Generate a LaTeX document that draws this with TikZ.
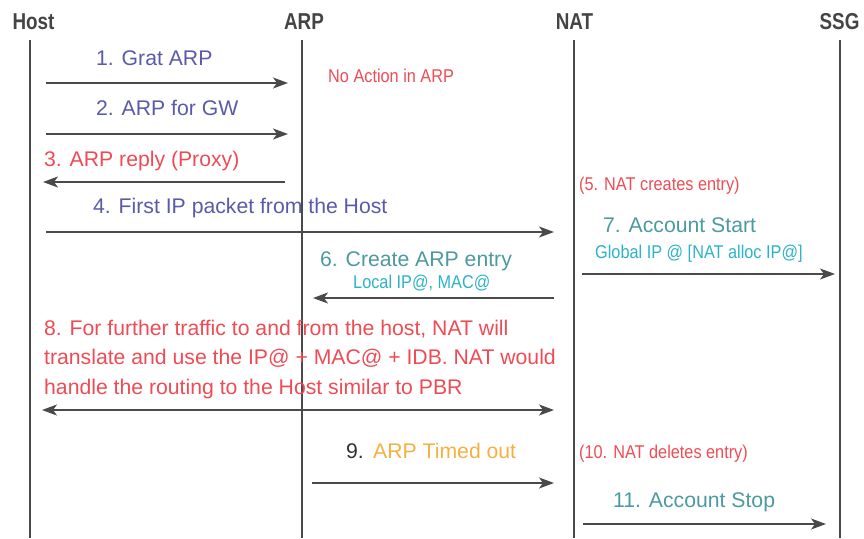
\documentclass[tikz,border=0pt]{standalone}
\usepackage{fontspec}
\setmainfont{Liberation Sans}
\newfontfamily\condfont[FakeStretch=0.88]{Liberation Sans}
\newfontfamily\headfont[FakeStretch=0.82]{Liberation Sans}
\usetikzlibrary{arrows.meta}
\definecolor{cblue}{HTML}{5A5AAA}
\definecolor{cred}{HTML}{EE4B55}
\definecolor{cteal}{HTML}{4C9AA0}
\definecolor{ccyan}{HTML}{2BB3C8}
\definecolor{corange}{HTML}{F5B042}
\definecolor{cdark}{HTML}{444444}
\definecolor{cline}{HTML}{4A4A4A}
\tikzset{
  head/.style={inner sep=0pt, text=cdark, font=\headfont\bfseries\fontsize{23}{26}\selectfont},
  lifeline/.style={draw=cline, line width=2pt},
  msg/.style={draw=cline, line width=1.4pt, -{Stealth[length=15pt,width=11pt,inset=4pt]}},
  dmsg/.style={draw=cline, line width=1.4pt, {Stealth[length=15pt,width=11pt,inset=4pt]}-{Stealth[length=15pt,width=11pt,inset=4pt]}},
  big/.style={inner sep=0pt, anchor=base west, font=\fontsize{21.2}{29.5}\selectfont},
  small/.style={inner sep=0pt, anchor=base west, font=\condfont\fontsize{18.5}{22}\selectfont},
}
\begin{document}
\begin{tikzpicture}[x=1pt,y=-1pt]
\useasboundingbox (0,0) rectangle (864,538);
% headers
\node[head] (host) at (33.5,21.5) {Host};
\node[head] (arp) at (304,21.5) {ARP};
\node[head] (nat) at (574.5,21.5) {NAT};
\node[head] (ssg) at (839.5,21.5) {SSG};
% lifelines
\coordinate (hostT) at (30,40);  \coordinate (hostB) at (30,538);
\coordinate (arpT) at (302,40);  \coordinate (arpB) at (302,538);
\coordinate (natT) at (574,40);  \coordinate (natB) at (574,538);
\coordinate (ssgT) at (840,40);  \coordinate (ssgB) at (840,538);
\draw[lifeline] (hostT) -- (hostB);
\draw[lifeline] (arpT) -- (arpB);
\draw[lifeline] (natT) -- (natB);
\draw[lifeline] (ssgT) -- (ssgB);
% arrow end points
\coordinate (a1s) at (46,83);  \coordinate (a1e) at (288,83);
\coordinate (a2s) at (46,134); \coordinate (a2e) at (288,134);
\coordinate (a3s) at (285,182); \coordinate (a3e) at (43,182);
\coordinate (a4s) at (46,232); \coordinate (a4e) at (554,232);
\coordinate (a7s) at (582,274); \coordinate (a7e) at (835,274);
\coordinate (a6s) at (554,298); \coordinate (a6e) at (313,298);
\coordinate (a8s) at (42,410); \coordinate (a8e) at (554,410);
\coordinate (a9s) at (312,483); \coordinate (a9e) at (554,483);
\coordinate (a11s) at (583,524); \coordinate (a11e) at (826,524);
\draw[msg] (a1s) -- (a1e);
\draw[msg] (a2s) -- (a2e);
\draw[msg] (a3s) -- (a3e);
\draw[msg] (a4s) -- (a4e);
\draw[msg] (a7s) -- (a7e);
\draw[msg] (a6s) -- (a6e);
\draw[dmsg] (a8s) -- (a8e);
\draw[msg] (a9s) -- (a9e);
\draw[msg] (a11s) -- (a11e);
% labels
\node[big, text=cblue] (l1) at (96,65) {1. Grat ARP};
\node[big, text=cblue] (l2) at (96,115) {2. ARP for GW};
\node[big, text=cred] (l3) at (44,166) {3. ARP reply (Proxy)};
\node[big, text=cblue] (l4) at (93,213) {4. First IP packet from the Host};
\node[small, text=cred] (na) at (328,82) {No Action in ARP};
\node[small, text=cred] (l5) at (579,190) {(5. NAT creates entry)};
\node[big, text=cteal] (l7) at (603,232) {7. Account Start};
\node[small, text=ccyan] (l7b) at (595,258) {Global IP @ [NAT alloc IP@]};
\node[big, text=cteal] (l6) at (320,266) {6. Create ARP entry};
\node[small, text=ccyan] (l6b) at (353,288) {Local IP@, MAC@};
\node[big, text=cred] (l8a) at (44,335) {8. For further traffic to and from the host, NAT will};
\node[big, text=cred] (l8b) at (44,364.5) {translate and use the IP@ + MAC@ + IDB. NAT would};
\node[big, text=cred] (l8c) at (44,394) {handle the routing to the Host similar to PBR};
\node[big, text=black!80] (l9n) at (346,458) {9.};
\node[big, text=corange] (l9) at (373,458) {ARP Timed out};
\node[small, text=cred] (l10) at (579,458) {(10. NAT deletes entry)};
\node[big, text=cteal] (l11) at (613,507) {11. Account Stop};
\end{tikzpicture}
\end{document}
